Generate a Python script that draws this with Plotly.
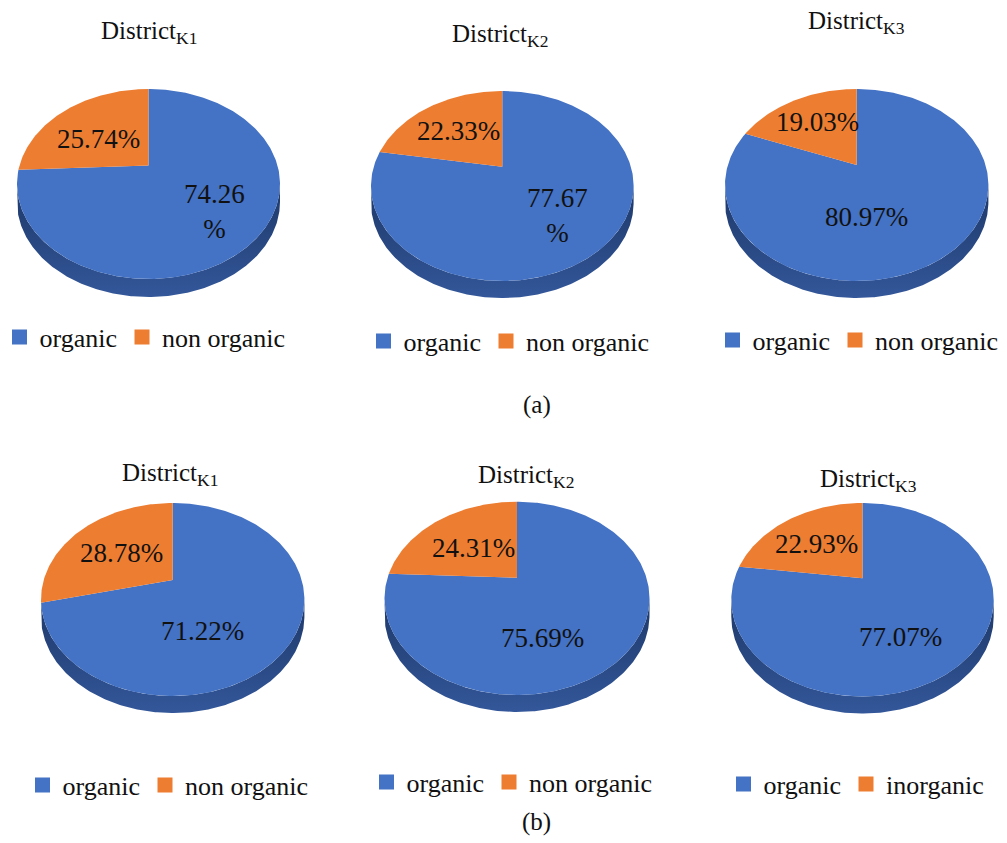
import numpy as np
import plotly.graph_objects as go

# ---------------- data ----------------
districts = ["K1", "K2", "K3"]
organic_a = [74.26, 77.67, 80.97]
non_organic_a = [25.74, 22.33, 19.03]
organic_b = [71.22, 75.69, 77.07]
non_organic_b = [28.78, 24.31, 22.93]
legend_names_a = [["organic", "non organic"], ["organic", "non organic"], ["organic", "non organic"]]
legend_names_b = [["organic", "non organic"], ["organic", "non organic"], ["organic", "inorganic"]]
panel_labels = ["(a)", "(b)"]

# ---------------- style / layout ----------------
W, H = 1007, 843
BLUE = "#4472C4"
ORANGE = "#ED7D31"
FONT = "'Liberation Serif', 'Times New Roman', Times, 'DejaVu Serif', serif"
TXT = "#111111"

# per-pie geometry in page pixels (layout, not data)
GEOM = [
    dict(cx=148.5, top=89, vert=165.5, bot=279, rx=131.5, depth=18,
         title=(148.5, 32), lab_org=(214, 211), lab_non=(98, 139), wrap=True, leg=(12, 337)),
    dict(cx=502.3, top=91, vert=166.7, bot=281, rx=131.3, depth=17,
         title=(500, 35), lab_org=(557, 215), lab_non=(458, 131), wrap=True, leg=(376, 341)),
    dict(cx=856.7, top=89, vert=165, bot=281, rx=131.7, depth=17,
         title=(856.5, 22.5), lab_org=(866, 217), lab_non=(817, 122), wrap=False, leg=(725, 340)),
    dict(cx=172.7, top=503, vert=580, bot=696, rx=131.7, depth=17,
         title=(170, 474), lab_org=(202, 631), lab_non=(121, 553), wrap=False, leg=(35, 785)),
    dict(cx=517.0, top=501.7, vert=577.7, bot=695, rx=132.5, depth=17,
         title=(525.5, 476.5), lab_org=(542, 638), lab_non=(473, 548), wrap=False, leg=(379, 782)),
    dict(cx=862.5, top=503, vert=578.3, bot=696.5, rx=131.2, depth=17,
         title=(868.5, 480.5), lab_org=(900, 637), lab_non=(816, 544), wrap=False, leg=(736, 784)),
]
PANEL_POS = [(537, 405), (536, 822)]


def params(g):
    T, C, B = g["top"], g["vert"], g["bot"]
    c = (2 * C - B - T) / (B - T)
    a = C - T * (1 - c)
    k = g["rx"] * np.sqrt(1 - c * c)
    return a, C, c, k


def proj(g, theta):
    """Project points of a unit circle (angle clockwise from 12 o'clock) to the tilted pie."""
    a, b, c, k = params(g)
    xs = np.sin(theta)
    ys = -np.cos(theta)
    den = 1 + c * ys
    return g["cx"] + k * xs / den, (a * ys + b) / den


fig = go.Figure()

values = [(organic_a[i], non_organic_a[i], legend_names_a[i]) for i in range(3)] + \
         [(organic_b[i], non_organic_b[i], legend_names_b[i]) for i in range(3)]
titles = districts + districts

annotations = []
legend_layouts = {}

for i, (g, (org, non, names)) in enumerate(zip(GEOM, values)):
    a, b, c, k = params(g)
    # side wall (front half, extruded downward)
    thr = np.arccos(np.clip(c, -1, 1))
    thl = 2 * np.pi - thr
    th = np.linspace(thr, thl, 240)
    u, v = proj(g, th)
    wx = np.concatenate([u, u[::-1]])
    wy = np.concatenate([v, (v + g["depth"])[::-1]])
    fig.add_trace(go.Scatter(
        x=wx, y=wy, mode="lines", fill="toself", line=dict(width=0),
        fillcolor="#2c4d8c",
        fillgradient=dict(type="vertical", colorscale=[[0, "#33579a"], [1, "#1e3868"]]),
        hoverinfo="skip", showlegend=False))

    total = org + non
    t_org = 2 * np.pi * org / total
    for (t0, t1, col) in [(0.0, t_org, BLUE), (t_org, 2 * np.pi, ORANGE)]:
        n = max(4, int(400 * (t1 - t0) / (2 * np.pi)))
        th = np.linspace(t0, t1, n)
        u, v = proj(g, th)
        sx = np.concatenate([[g["cx"]], u, [g["cx"]]])
        sy = np.concatenate([[b], v, [b]])
        fig.add_trace(go.Scatter(
            x=sx, y=sy, mode="lines", fill="toself", line=dict(width=0),
            fillcolor=col, hoverinfo="skip", showlegend=False))

    # legend entries
    lkey = "legend" if i == 0 else f"legend{i + 1}"
    for name, col in zip(names, [BLUE, ORANGE]):
        fig.add_trace(go.Scatter(
            x=[None], y=[None], mode="markers", name=name,
            marker=dict(symbol="square", size=15, color=col),
            legend=lkey, showlegend=True))
    lx, ly = g["leg"]
    legend_layouts[lkey] = dict(
        x=(lx - 12.5) / W, y=1 - ly / H, xanchor="left", yanchor="middle",
        orientation="h", bgcolor="rgba(0,0,0,0)", borderwidth=0,
        font=dict(family=FONT, size=26, color=TXT), itemwidth=30,
        traceorder="normal", itemclick=False, itemdoubleclick=False)

    # title
    tx, ty = g["title"]
    annotations.append(dict(
        x=tx, y=ty, xref="x", yref="y", showarrow=False,
        text=f"District<sub>{titles[i]}</sub>", xanchor="center", yanchor="middle",
        font=dict(family=FONT, size=25, color=TXT)))

    # data labels
    org_txt = f"{org:.2f}<br>%" if g["wrap"] else f"{org:.2f}%"
    for (pos, txt) in [(g["lab_org"], org_txt), (g["lab_non"], f"{non:.2f}%")]:
        annotations.append(dict(
            x=pos[0], y=pos[1], xref="x", yref="y", showarrow=False, text=txt,
            xanchor="center", yanchor="middle",
            font=dict(family=FONT, size=27, color=TXT)))

for lab, (px, py) in zip(panel_labels, PANEL_POS):
    annotations.append(dict(
        x=px, y=py, xref="x", yref="y", showarrow=False, text=lab,
        xanchor="center", yanchor="middle", font=dict(family=FONT, size=25, color=TXT)))

fig.update_layout(
    width=W, height=H, margin=dict(l=0, r=0, t=0, b=0, autoexpand=False),
    paper_bgcolor="white", plot_bgcolor="white",
    xaxis=dict(range=[0, W], visible=False, fixedrange=True),
    yaxis=dict(range=[H, 0], visible=False, fixedrange=True),
    annotations=annotations,
    **legend_layouts,
)

fig.write_html("out.html")
